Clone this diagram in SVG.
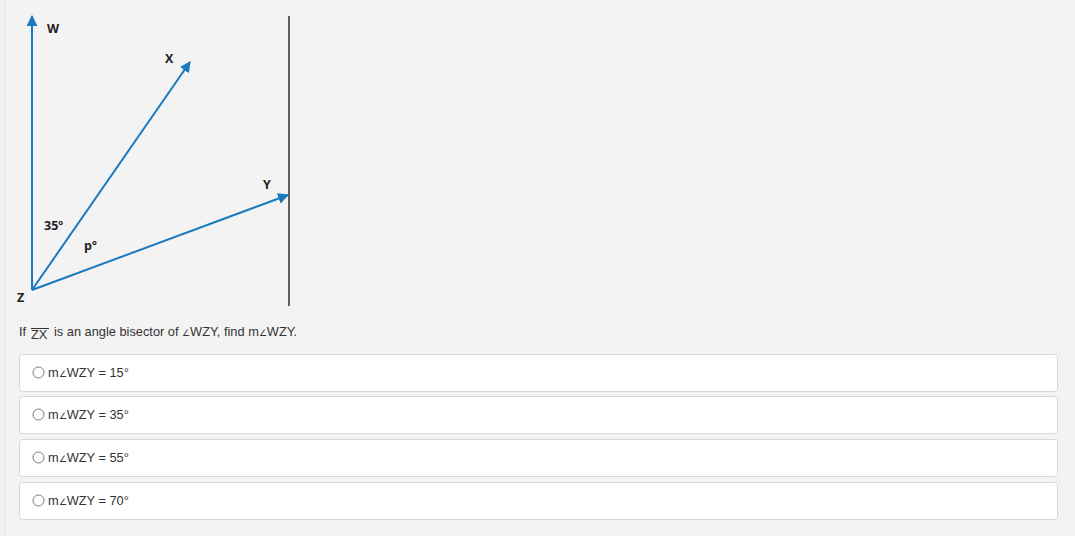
<svg xmlns="http://www.w3.org/2000/svg" width="1075" height="536" viewBox="0 0 1075 536">
<style>
.lbl{font-family:"Open Sans","Liberation Sans",sans-serif;font-size:12.5px;font-weight:bold;fill:#222}
.ray{stroke:#1a7abf;stroke-width:2;fill:none}
.q{font-family:"Liberation Sans",Arial,sans-serif;font-size:12.8px;fill:#333}
.ang{font-size:9px}
.box{fill:#fff;stroke:#d6d6d6;stroke-width:1}
.radio{fill:#fff;stroke:#777;stroke-width:1}
</style>
<defs>
<marker id="ah" viewBox="0 0 10 10" refX="9" refY="5" markerWidth="5.5" markerHeight="5.5" orient="auto" markerUnits="strokeWidth">
<path d="M0,0 L10,5 L0,10 z" fill="#1a7abf"/>
</marker>
</defs>
<rect x="0" y="0" width="1075" height="536" fill="#f3f3f3"/>
<line x1="4.5" y1="0" x2="4.5" y2="536" stroke="#e6e6e6"/>
<g id="connectors">
<line class="ray" x1="32" y1="290" x2="32" y2="16" marker-end="url(#ah)"/>
<line class="ray" x1="32" y1="290" x2="190" y2="62" marker-end="url(#ah)"/>
<line class="ray" x1="32" y1="290" x2="288" y2="195" marker-end="url(#ah)"/>
<line x1="289" y1="16" x2="289" y2="306" stroke="#000" stroke-width="1.2"/>
</g>
<g id="node-W"><text class="lbl" x="47" y="33">W</text></g>
<g id="node-X"><text class="lbl" x="165" y="63">X</text></g>
<g id="node-Y"><text class="lbl" x="263" y="189">Y</text></g>
<g id="node-Z"><text class="lbl" x="17" y="302">Z</text></g>
<g id="angle-35"><text class="lbl" x="44" y="230">35º</text></g>
<g id="angle-p"><text class="lbl" x="84" y="250">pº</text></g>
<g id="question">
<text class="q" x="19" y="335.5">If</text>
<text class="q" x="31" y="338.5" font-size="14.5">ZX</text>
<line x1="31" y1="328.5" x2="49" y2="328.5" stroke="#333" stroke-width="1"/>
<text class="q" x="54" y="335.5">is an angle bisector of <tspan class="ang">∠</tspan>WZY, find m<tspan class="ang">∠</tspan>WZY.</text>
</g>
<g id="option-1">
<rect class="box" x="19.5" y="354.5" width="1038" height="37" rx="3"/>
<circle class="radio" cx="38.5" cy="372.5" r="5.5"/>
<text class="q" x="48" y="377">m<tspan class="ang">∠</tspan>WZY = 15°</text>
</g>
<g id="option-2">
<rect class="box" x="19.5" y="396.5" width="1038" height="37" rx="3"/>
<circle class="radio" cx="38.5" cy="414.5" r="5.5"/>
<text class="q" x="48" y="419">m<tspan class="ang">∠</tspan>WZY = 35°</text>
</g>
<g id="option-3">
<rect class="box" x="19.5" y="439.5" width="1038" height="37" rx="3"/>
<circle class="radio" cx="38.5" cy="457.5" r="5.5"/>
<text class="q" x="48" y="462">m<tspan class="ang">∠</tspan>WZY = 55°</text>
</g>
<g id="option-4">
<rect class="box" x="19.5" y="482.5" width="1038" height="37" rx="3"/>
<circle class="radio" cx="38.5" cy="500.5" r="5.5"/>
<text class="q" x="48" y="505">m<tspan class="ang">∠</tspan>WZY = 70°</text>
</g>
</svg>
